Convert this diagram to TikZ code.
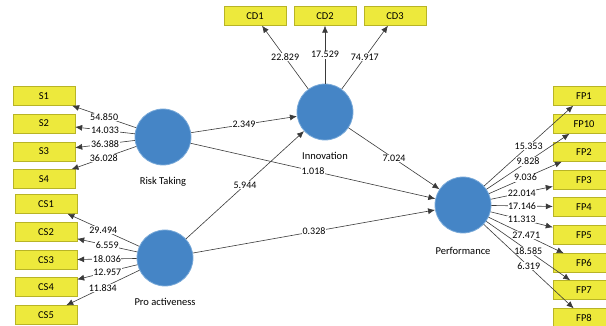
\documentclass[tikz,border=0pt]{standalone}
\usepackage{fontspec}
\setmainfont{Carlito}
\usetikzlibrary{positioning,arrows.meta}

\definecolor{boxyellow}{HTML}{EDE93C}
\definecolor{boxedge}{HTML}{B8B426}
\definecolor{latblue}{HTML}{4585C6}
\definecolor{latedge}{HTML}{7AAAD9}
\definecolor{pathgray}{HTML}{3A3A3A}

\tikzset{
  ind/.style={draw=boxedge, fill=boxyellow, minimum width=62pt, minimum height=19pt, inner sep=0pt, font=\fontsize{10.5}{11}\selectfont},
  lat/.style={circle, draw=latedge, line width=0.8pt, fill=latblue, minimum size=56pt, inner sep=0pt},
  latname/.style={font=\fontsize{10.5}{11}\selectfont},
  val/.style={fill=white, inner sep=0.6pt, font=\fontsize{10}{10}\selectfont},
  link/.style={draw=pathgray, line width=0.6pt, -{Latex[length=7pt,width=6pt]}}
}

\begin{document}
\begin{tikzpicture}[x=1pt, y=-1pt]
  \useasboundingbox (0,0) rectangle (606,326);

  % Constructs
  \node[lat] (rt) at (163,137) {};
  \node[lat] (pa) at (165,258) {};
  \node[lat] (inno) at (325,112) {};
  \node[lat] (perf) at (463,205) {};
  \node[latname, below=8pt of rt] {Risk Taking};
  \node[latname, below=8pt of pa] {Pro activeness};
  \node[latname, below=8pt of inno] {Innovation};
  \node[latname, below=10pt of perf] {Performance};

  % Indicators
  \node[ind] (s1) at (44,96) {S1};
  \node[ind] (s2) at (44,123.5) {S2};
  \node[ind] (s3) at (44,151.5) {S3};
  \node[ind] (s4) at (44,179) {S4};

  \node[ind] (cs1) at (46,204) {CS1};
  \node[ind] (cs2) at (46,232) {CS2};
  \node[ind] (cs3) at (46,260) {CS3};
  \node[ind] (cs4) at (46,287) {CS4};
  \node[ind] (cs5) at (46,315) {CS5};

  \node[ind] (cd1) at (255,16) {CD1};
  \node[ind] (cd2) at (325,16) {CD2};
  \node[ind] (cd3) at (395,16) {CD3};

  \node[ind] (fp1) at (584,96) {FP1};
  \node[ind] (fp10) at (584,124) {FP10};
  \node[ind] (fp2) at (584,152) {FP2};
  \node[ind] (fp3) at (584,180) {FP3};
  \node[ind] (fp4) at (584,207) {FP4};
  \node[ind] (fp5) at (584,235) {FP5};
  \node[ind] (fp6) at (584,263) {FP6};
  \node[ind] (fp7) at (584,290) {FP7};
  \node[ind] (fp8) at (584,318) {FP8};

  % Outer loadings
  \draw[link] (rt) -- (s1) node[val, midway] {54.850};
  \draw[link] (rt) -- (s2) node[val, midway] {14.033};
  \draw[link] (rt) -- (s3) node[val, midway] {36.388};
  \draw[link] (rt) -- (s4) node[val, midway] {36.028};

  \draw[link] (pa) -- (cs1) node[val, midway] {29.494};
  \draw[link] (pa) -- (cs2) node[val, midway] {6.559};
  \draw[link] (pa) -- (cs3) node[val, midway] {18.036};
  \draw[link] (pa) -- (cs4) node[val, midway] {12.957};
  \draw[link] (pa) -- (cs5) node[val, midway] {11.834};

  \draw[link] (inno) -- (cd1) node[val, midway] {22.829};
  \draw[link] (inno) -- (cd2) node[val, midway] {17.529};
  \draw[link] (inno) -- (cd3) node[val, midway] {74.917};

  \draw[link] (perf) -- (fp1) node[val, midway] {15.353};
  \draw[link] (perf) -- (fp10) node[val, midway] {9.828};
  \draw[link] (perf) -- (fp2) node[val, midway] {9.036};
  \draw[link] (perf) -- (fp3) node[val, midway] {22.014};
  \draw[link] (perf) -- (fp4) node[val, midway] {17.146};
  \draw[link] (perf) -- (fp5) node[val, midway] {11.313};
  \draw[link] (perf) -- (fp6) node[val, midway] {27.471};
  \draw[link] (perf) -- (fp7) node[val, midway] {18.585};
  \draw[link] (perf) -- (fp8) node[val, midway] {6.319};

  % Inner paths
  \draw[link] (rt) -- (inno) node[val, midway] {2.349};
  \draw[link] (pa) -- (inno) node[val, midway] {5.944};
  \draw[link] (rt) -- (perf) node[val, midway] {1.018};
  \draw[link] (pa) -- (perf) node[val, midway] {0.328};
  \draw[link] (inno) -- (perf) node[val, midway] {7.024};
\end{tikzpicture}
\end{document}
